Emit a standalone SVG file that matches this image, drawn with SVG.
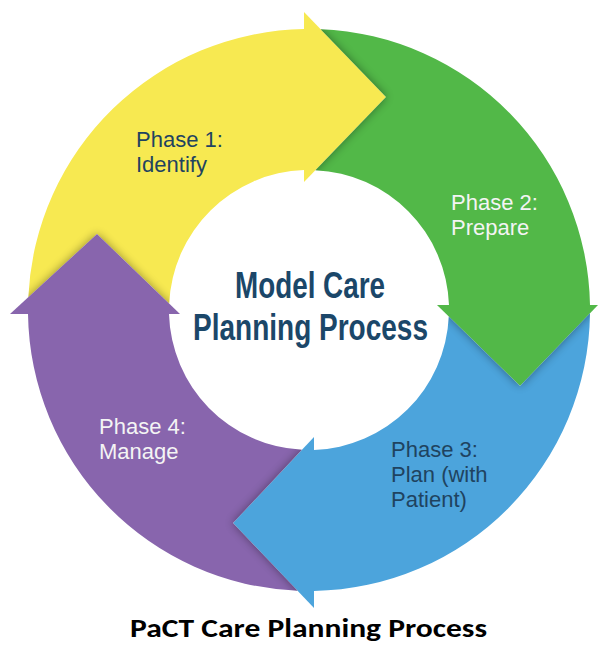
<svg xmlns="http://www.w3.org/2000/svg" width="598" height="645" viewBox="0 0 598 645">
  <style>
    .lbl { font-family: "Liberation Sans", Arial, sans-serif; font-size: 22px; }
    .dark { fill: #1F4360; }
    .light { fill: #F4F4F4; }
    .center { font-family: "Liberation Sans Narrow", "Liberation Sans", Arial, sans-serif; font-weight: 700; font-size: 37px; fill: #1B4769; }
    .title { font-family: Carlito, "Open Sans", "Liberation Sans", sans-serif; font-weight: 700; font-size: 27px; fill: #000000; }
    .shadow { fill: #000000; opacity: 0.4; filter: url(#blur); }
  </style>
  <defs>
    <filter id="blur" x="-30%" y="-30%" width="160%" height="160%">
      <feGaussianBlur stdDeviation="5"/>
    </filter>
    <clipPath id="clipYellow"><path d="M 28.3,297.2 A 281 281 0 0 1 304,29 L 304,170 A 140 140 0 0 0 169.2,303.5 L 97,234 Z"/></clipPath>
    <clipPath id="clipGreen"><path d="M 320.6,29.2 A 281 281 0 0 1 590,305 L 449,305 A 140 140 0 0 0 315.4,170.2 L 386,97 Z"/></clipPath>
    <clipPath id="clipBlue"><path d="M 590,313.3 A 281 281 0 0 1 314,591 L 314,450 A 140 140 0 0 0 448.8,316.6 L 520,386 Z"/></clipPath>
    <clipPath id="clipPurple"><path d="M 297.6,590.8 A 281 281 0 0 1 28,314 L 169,314 A 140 140 0 0 0 301.9,449.8 L 233,523 Z"/></clipPath>
  </defs>
  <rect width="598" height="645" fill="#FFFFFF"/>

  <g id="phase1">
    <path d="M 28.3,297.2 A 281 281 0 0 1 304,29 L 304,170 A 140 140 0 0 0 169.2,303.5 L 97,234 Z" fill="#F7E951"/>
    <g clip-path="url(#clipYellow)"><polygon class="shadow" points="10,314 97,234 180,314"/></g>
    <polygon points="304,12 386,97 304,182" fill="#F7E951"/>
    <text class="lbl dark" x="136" y="147">Phase 1:</text>
    <text class="lbl dark" x="136" y="172">Identify</text>
  </g>

  <g id="phase2">
    <path d="M 320.6,29.2 A 281 281 0 0 1 590,305 L 449,305 A 140 140 0 0 0 315.4,170.2 L 386,97 Z" fill="#52B848"/>
    <g clip-path="url(#clipGreen)"><polygon class="shadow" points="304,12 386,97 304,182"/></g>
    <polygon points="437,305 520,386 598,305" fill="#52B848"/>
    <text class="lbl light" x="451" y="210">Phase 2:</text>
    <text class="lbl light" x="451" y="235">Prepare</text>
  </g>

  <g id="phase3">
    <path d="M 590,313.3 A 281 281 0 0 1 314,591 L 314,450 A 140 140 0 0 0 448.8,316.6 L 520,386 Z" fill="#4CA4DC"/>
    <g clip-path="url(#clipBlue)"><polygon class="shadow" points="437,305 520,386 598,305"/></g>
    <polygon points="314,437 233,523 314,608" fill="#4CA4DC"/>
    <text class="lbl dark" x="391" y="457">Phase 3:</text>
    <text class="lbl dark" x="391" y="482">Plan (with</text>
    <text class="lbl dark" x="391" y="507">Patient)</text>
  </g>

  <g id="phase4">
    <path d="M 297.6,590.8 A 281 281 0 0 1 28,314 L 169,314 A 140 140 0 0 0 301.9,449.8 L 233,523 Z" fill="#8865AD"/>
    <g clip-path="url(#clipPurple)"><polygon class="shadow" points="314,437 233,523 314,608"/></g>
    <polygon points="10,314 97,234 180,314" fill="#8865AD"/>
    <text class="lbl light" x="99" y="434">Phase 4:</text>
    <text class="lbl light" x="99" y="459">Manage</text>
  </g>

  <g id="connectors"></g>

  <g id="center">
    <text class="center" x="310" y="298" text-anchor="middle" textLength="150" lengthAdjust="spacingAndGlyphs">Model Care</text>
    <text class="center" x="310.5" y="340" text-anchor="middle" textLength="235" lengthAdjust="spacingAndGlyphs">Planning Process</text>
  </g>

  <text class="title" x="308.5" y="636.5" text-anchor="middle" textLength="357" lengthAdjust="spacingAndGlyphs">PaCT Care Planning Process</text>
</svg>
